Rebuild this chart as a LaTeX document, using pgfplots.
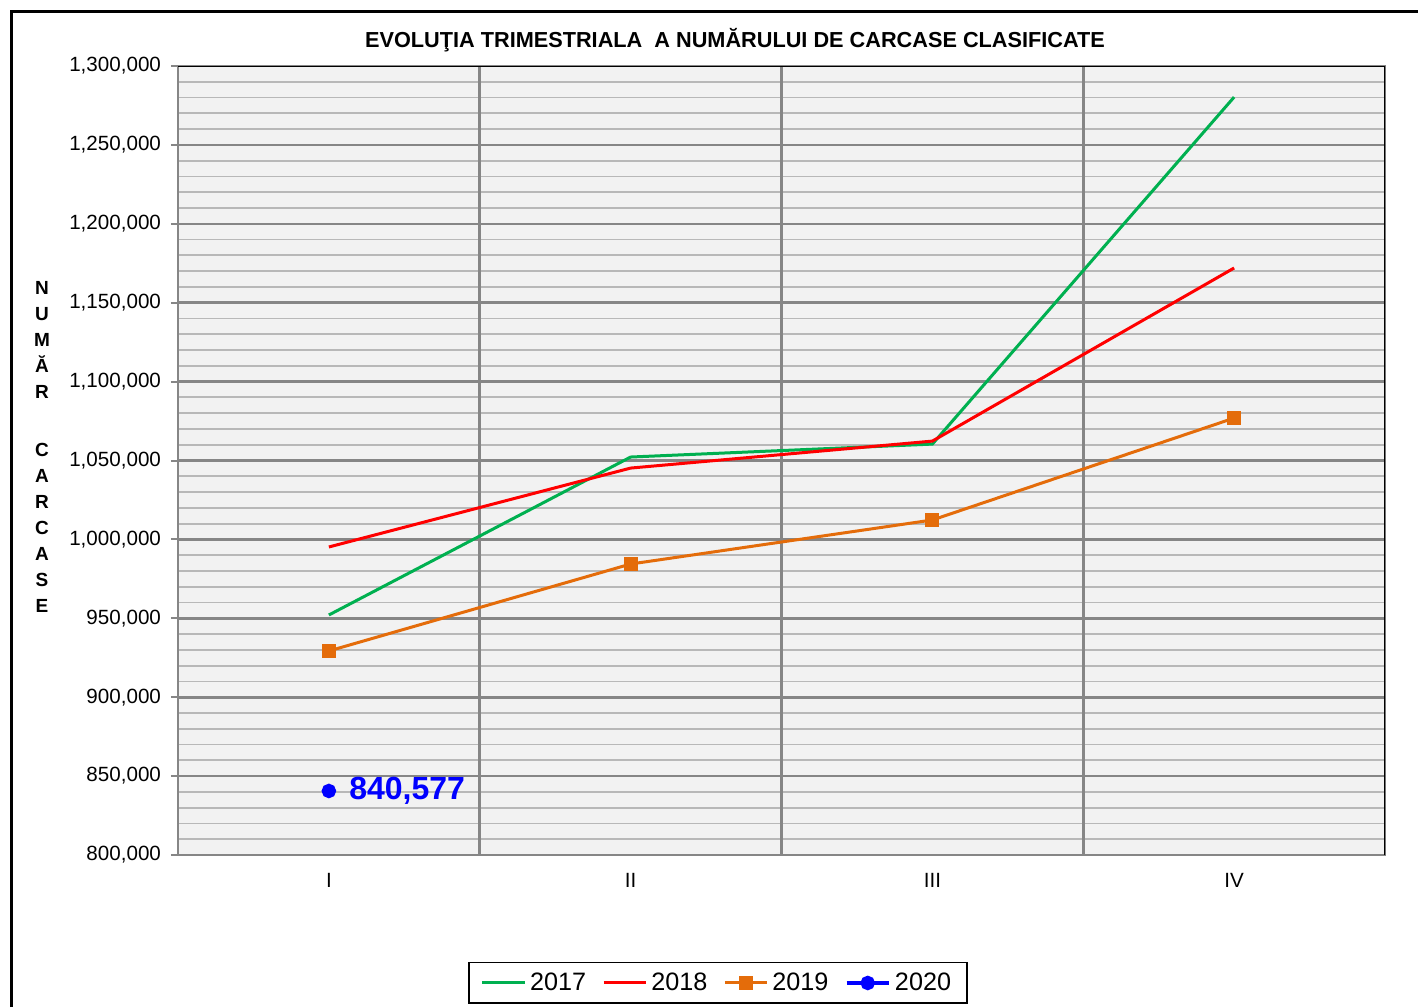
\documentclass[border=0pt]{standalone}
\usepackage{fontspec}
\setmainfont{Liberation Sans}
\usepackage{pgfplots}
\pgfplotsset{compat=1.18}
\definecolor{c2017}{HTML}{00B050}
\definecolor{c2018}{HTML}{FF0000}
\definecolor{c2019}{HTML}{E46C0A}
\definecolor{c2020}{HTML}{0000FF}
\definecolor{plotbg}{HTML}{F2F2F2}
\definecolor{majgrid}{HTML}{868686}
\definecolor{mingrid}{HTML}{B8B8B8}
\begin{document}
\begin{tikzpicture}
\useasboundingbox (0,0) rectangle (709pt,503.5pt);
% outer chart frame (right and bottom edges are cut off in the reference)
\draw[line width=1.5pt] (5.5pt,0) -- (5.5pt,497.5pt) -- (712pt,497.5pt);
\node[font=\bfseries\fontsize{10.85}{12}\selectfont] at (367.5pt,483.5pt)
  {EVOLUŢIA TRIMESTRIALA\ \ A NUMĂRULUI DE CARCASE CLASIFICATE};
\node[font=\bfseries\fontsize{9.5}{13}\selectfont, align=center] at (21pt,280pt)
  {N\\U\\M\\Ă\\R\\[16pt]C\\A\\R\\C\\A\\S\\E};
\begin{axis}[
    at={(89pt,76pt)}, anchor=south west,
    width=603.5pt, height=394.5pt, scale only axis,
    xmin=0.5, xmax=4.5,
    ymin=800000, ymax=1300000,
    axis background/.style={fill=plotbg},
    axis line style={majgrid, line width=1pt},
    xtick={1,2,3,4},
    xticklabels={I,II,III,IV},
    major x tick style={draw=none},
    extra x ticks={1.5,2.5,3.5,4.5},
    extra x tick labels={},
    extra x tick style={grid=major, major tick length=3pt,
        tick style={draw=majgrid, line width=1pt}},
    ytick={800000,850000,...,1300000},
    minor y tick num=4,
    ymajorgrids, yminorgrids,
    major grid style={majgrid, line width=1.3pt},
    minor grid style={mingrid, line width=0.9pt},
    y tick style={majgrid, line width=1pt},
    minor y tick style={draw=none},
    tick align=outside,
    major tick length=3.5pt,
    xtick pos=lower, ytick pos=left,
    scaled y ticks=false,
    ticklabel style={font=\fontsize{10.3}{12}\selectfont},
    yticklabel style={xshift=-1.5pt, /pgf/number format/.cd, fixed, 1000 sep={,}, assume math mode=true},
    xticklabel style={yshift=-2pt},
    legend columns=4,
    legend style={at={(0.4474,-0.1622)}, anchor=center,
        draw=black, line width=0.8pt,
        font=\fontsize{12.6}{15}\selectfont,
        /tikz/every even column/.append style={column sep=6pt},
        inner xsep=6pt, inner ysep=3pt},
    legend image code/.code={
        \draw[#1, mark repeat=2, mark phase=2] plot coordinates {(0cm,0cm) (0.37cm,0cm) (0.74cm,0cm)};},
]
\addplot[c2017, line width=1.5pt] coordinates {
    (1,952100) (2,1052200) (3,1060400) (4,1280300)};
\addlegendentry{2017}
\addplot[c2018, line width=1.5pt] coordinates {
    (1,995200) (2,1045200) (3,1062300) (4,1172000)};
\addlegendentry{2018}
\addplot[c2019, line width=1.5pt, mark=square*, mark size=2.8pt] coordinates {
    (1,929300) (2,984400) (3,1012300) (4,1076900)};
\addlegendentry{2019}
\addplot[c2020, line width=2.2pt, mark=*, mark size=2.5pt] coordinates {
    (1,840577)};
\addlegendentry{2020}
\node[anchor=west, text=c2020, font=\bfseries\fontsize{16}{18}\selectfont, inner sep=0pt]
    at (axis cs:1,840577) {\hspace{10pt}840,577};
% darker top and right edges of the plot area
\draw[black, line width=1pt] (rel axis cs:0,1) -- (rel axis cs:1,1) -- (rel axis cs:1,0);
\end{axis}
\end{tikzpicture}
\end{document}
